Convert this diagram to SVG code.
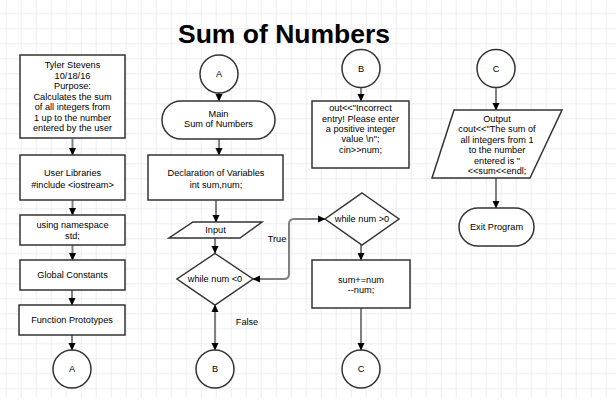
<svg xmlns="http://www.w3.org/2000/svg" width="616" height="404" viewBox="0 0 616 404">
<style>
.sh{fill:#fff;stroke:#333;stroke-width:1.5}
.t{font-family:"Liberation Sans",Arial,sans-serif;font-size:9.2px;fill:#000;text-anchor:middle}
.c{fill:none;stroke:#808080;stroke-width:2}
.title{font-family:"Liberation Sans",Arial,sans-serif;font-size:26.5px;font-weight:bold;fill:#000;text-anchor:middle}
</style>
<defs>
<pattern id="grid" x="5.7" y="13.3" width="15" height="15" patternUnits="userSpaceOnUse">
<path d="M0 0H15M0 0V15" fill="none" stroke="#dcdce9" stroke-width="1"/>
</pattern>
<marker id="ah" markerWidth="8" markerHeight="8" refX="7" refY="4" orient="auto" markerUnits="userSpaceOnUse">
<path d="M0 0.5L7.5 4L0 7.5Z" fill="#000"/>
</marker>
<marker id="as" markerWidth="8" markerHeight="8" refX="1" refY="4" orient="auto" markerUnits="userSpaceOnUse">
<path d="M8 0.5L0.5 4L8 7.5Z" fill="#000"/>
</marker>
</defs>
<rect width="616" height="404" fill="#fff"/>
<rect width="616" height="398" fill="url(#grid)"/>
<text class="title" x="284" y="43">Sum of Numbers</text>

<g id="connectors">
<path class="c" d="M72.5 138.5V155" marker-end="url(#ah)"/>
<path class="c" d="M72.5 200V215" marker-end="url(#ah)"/>
<path class="c" d="M72.5 245V260" marker-end="url(#ah)"/>
<path class="c" d="M72 290V305" marker-end="url(#ah)"/>
<path class="c" d="M72 335V350" marker-end="url(#ah)"/>
<path class="c" d="M219 93V101" marker-end="url(#ah)"/>
<path class="c" d="M219 139V155" marker-end="url(#ah)"/>
<path class="c" d="M216 200V222" marker-end="url(#ah)"/>
<path class="c" d="M215 238V253" marker-end="url(#ah)"/>
<path class="c" d="M215 305V350" marker-start="url(#as)" marker-end="url(#ah)"/>
<path class="c" d="M253 279H284Q289 279 289 274V224Q289 219 294 219H325" marker-start="url(#as)" marker-end="url(#ah)"/>
<path class="c" d="M361 87.5V101" marker-end="url(#ah)"/>
<path class="c" d="M361 245V260" marker-end="url(#ah)"/>
<path class="c" d="M361 308V350" marker-end="url(#ah)"/>
<path class="c" d="M496 87V110" marker-end="url(#ah)"/>
<path class="c" d="M496 178V208" marker-end="url(#ah)"/>
<text class="t" x="277" y="242">True</text>
<text class="t" x="247" y="325">False</text>
</g>

<g id="info">
<rect class="sh" x="20" y="55" width="105" height="83"/>
<text class="t" x="72.5" y="68.3">Tyler Stevens</text>
<text class="t" x="72.5" y="78.8">10/18/16</text>
<text class="t" x="72.5" y="89.3">Purpose:</text>
<text class="t" x="72.5" y="99.8">Calculates the sum</text>
<text class="t" x="72.5" y="110.3">of all integers from</text>
<text class="t" x="72.5" y="120.8">1 up to the number</text>
<text class="t" x="72.5" y="131.3">entered by the user</text>
</g>
<g id="libraries">
<rect class="sh" x="20" y="155" width="105" height="45"/>
<text class="t" x="72.5" y="176">User Libraries</text>
<text class="t" x="72.5" y="187.5">#include &lt;iostream&gt;</text>
</g>
<g id="namespace">
<rect class="sh" x="20" y="215" width="105" height="30"/>
<text class="t" x="72.5" y="228.3">using namespace</text>
<text class="t" x="72.5" y="239.3">std;</text>
</g>
<g id="constants">
<rect class="sh" x="20" y="260" width="105" height="30"/>
<text class="t" x="72.5" y="277.6">Global Constants</text>
</g>
<g id="prototypes">
<rect class="sh" x="19" y="305" width="106" height="30"/>
<text class="t" x="72" y="322.6">Function Prototypes</text>
</g>
<g id="connA1">
<circle class="sh" cx="72" cy="369" r="19"/>
<text class="t" x="72" y="372.3">A</text>
</g>

<g id="connA2">
<circle class="sh" cx="219" cy="74" r="19"/>
<text class="t" x="219" y="77.3">A</text>
</g>
<g id="main">
<rect class="sh" x="162" y="101" width="113" height="38" rx="19"/>
<text class="t" x="218.5" y="116.6">Main</text>
<text class="t" x="218.5" y="127.3">Sum of Numbers</text>
</g>
<g id="declaration">
<rect class="sh" x="148" y="155" width="135" height="45"/>
<text class="t" x="216" y="176">Declaration of Variables</text>
<text class="t" x="216" y="188.3">int sum,num;</text>
</g>
<g id="input">
<polygon class="sh" points="193,222 262,222 240,238 169,238"/>
<text class="t" x="215.5" y="233.3">Input</text>
</g>
<g id="whileLess">
<polygon class="sh" points="215,253.5 253,279 215,305 177,279"/>
<text class="t" x="215" y="282.3">while num &lt;0</text>
</g>
<g id="connB1">
<circle class="sh" cx="215" cy="369" r="19"/>
<text class="t" x="215" y="372.3">B</text>
</g>

<g id="connB2">
<circle class="sh" cx="361" cy="68.5" r="19"/>
<text class="t" x="361" y="71.8">B</text>
</g>
<g id="errorMsg">
<rect class="sh" x="312" y="101" width="97" height="67"/>
<text class="t" x="360.5" y="111.3">out&lt;&lt;"Incorrect</text>
<text class="t" x="360.5" y="121.6">entry! Please enter</text>
<text class="t" x="360.5" y="131.9">a positive integer</text>
<text class="t" x="360.5" y="142.2">value \n";</text>
<text class="t" x="360.5" y="152.5">cin&gt;&gt;num;</text>
</g>
<g id="whileGreater">
<polygon class="sh" points="362,193 399,219 362,245 325,219"/>
<text class="t" x="362" y="222.3">while num &gt;0</text>
</g>
<g id="sumBox">
<rect class="sh" x="312" y="260" width="98" height="48"/>
<text class="t" x="361" y="282.6">sum+=num</text>
<text class="t" x="361" y="293.3">--num;</text>
</g>
<g id="connC1">
<circle class="sh" cx="361" cy="369" r="19"/>
<text class="t" x="361" y="372.3">C</text>
</g>

<g id="connC2">
<circle class="sh" cx="496" cy="68.5" r="19"/>
<text class="t" x="496" y="71.8">C</text>
</g>
<g id="output">
<polygon class="sh" points="454,110 562,110 530,178 432,178"/>
<text class="t" x="497" y="121.8">Output</text>
<text class="t" x="497" y="132.3">cout&lt;&lt;"The sum of</text>
<text class="t" x="497" y="142.8">all integers from 1</text>
<text class="t" x="497" y="153.3">to the number</text>
<text class="t" x="497" y="163.8">entered is "</text>
<text class="t" x="497" y="174.3">&lt;&lt;sum&lt;&lt;endl;</text>
</g>
<g id="exit">
<rect class="sh" x="459" y="208" width="75" height="38" rx="19"/>
<text class="t" x="496.5" y="230">Exit Program</text>
</g>
</svg>
